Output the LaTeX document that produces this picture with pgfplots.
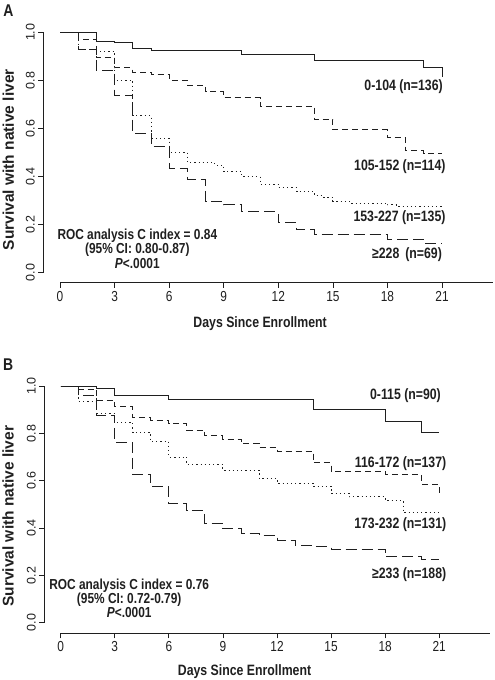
\documentclass[border=0pt]{standalone}
\usepackage{fontspec}
\setmainfont{Liberation Sans}[FakeStretch=0.82]
\newfontfamily\rotfont{Liberation Sans}
\usepackage{pgfplots}
\usepackage{pgfplotstable}
\pgfplotsset{compat=1.18}
\definecolor{ink}{gray}{0.12}

% Panel A
\pgfplotstableread{
x y
0 1
2 0.963
3 0.956
4 0.932
5 0.924
10 0.908
14 0.884
20 0.852
21 0.815
}\tabAa
\pgfplotstableread{
x y
0 1
1 0.972
2 0.896
3 0.852
4 0.835
5 0.824
6 0.800
7 0.780
8 0.752
9 0.728
11 0.692
14 0.637
15 0.594
18 0.562
19 0.507
20 0.494
21 0.494
}\tabAb
\pgfplotstableread{
x y
0 1
1 0.930
2 0.922
3 0.800
4 0.653
5 0.560
6 0.500
7 0.458
8.5 0.448
9 0.420
10 0.400
11 0.368
12 0.355
13 0.337
14 0.320
14.5 0.313
15 0.298
16 0.290
18 0.282
18.5 0.276
21 0.276
}\tabAc
\pgfplotstableread{
x y
0 1
1 0.930
2 0.843
3 0.739
4 0.580
5 0.524
6 0.434
7 0.388
8 0.298
9 0.283
10 0.253
12 0.207
13 0.178
14 0.158
18 0.140
20 0.123
21 0.123
}\tabAd

% Panel B
\pgfplotstableread{
x y
0 1
2 0.990
3 0.960
6 0.944
14 0.899
18 0.851
20 0.802
21 0.802
}\tabBa
\pgfplotstableread{
x y
0 1
1 0.987
2 0.941
3 0.913
4 0.868
5 0.856
6 0.842
7 0.814
8 0.789
9 0.776
10 0.758
11 0.742
12 0.725
14 0.675
15 0.638
18 0.625
20 0.583
21 0.545
}\tabBb
\pgfplotstableread{
x y
0 1
1 0.935
2 0.886
3 0.847
4 0.803
5 0.765
6 0.700
7 0.668
9 0.645
11 0.610
12 0.589
14 0.577
15 0.547
16 0.532
18 0.517
19 0.465
21 0.465
}\tabBc
\pgfplotstableread{
x y
0 1
1 0.960
2 0.875
3 0.762
4 0.625
5 0.575
6 0.504
7 0.473
8 0.421
9 0.398
10 0.379
11 0.370
12 0.349
13 0.327
14 0.321
15 0.311
18 0.279
20 0.266
21 0.266
}\tabBd

\tikzset{
  lab/.style={font=\bfseries\fontsize{15bp}{17bp}\selectfont, text=ink, inner sep=0pt},
}
\pgfplotsset{
  kmaxis/.style={
    scale only axis, xmin=0, xmax=23.8, ymin=0, ymax=1,
    axis x line=bottom, axis y line=left,
    axis line style={-, line width=0.8bp, draw=ink},
    xtick={0,3,6,9,12,15,18,21}, ytick={0,0.2,0.4,0.6,0.8,1},
    tick align=outside, major tick length=5bp,
    tick style={draw=ink, line width=0.8bp},
    /pgf/number format/assume math mode=true,
    xticklabel style={font=\fontsize{14.5bp}{16bp}\selectfont, text=ink},
    yticklabel style={font=\rotfont\fontsize{12.5bp}{14bp}\selectfont, rotate=90, anchor=south, text=ink},
    yticklabel={\pgfmathprintnumber[fixed,fixed zerofill,precision=1]{\tick}},
    xlabel style={font=\bfseries\fontsize{15bp}{17bp}\selectfont, text=ink, anchor=center},
    ylabel style={font=\rotfont\bfseries\fontsize{15.5bp}{17bp}\selectfont, text=ink, anchor=center},
    clip=false,
  },
  sA/.style={draw=ink, line width=0.9bp, const plot, no marks},
  sB/.style={draw=ink, line width=0.9bp, const plot, no marks, dash pattern=on 6bp off 4bp},
  sC/.style={draw=ink, line width=0.9bp, const plot, no marks, dash pattern=on 1.2bp off 3bp},
  sD/.style={draw=ink, line width=0.9bp, const plot, no marks, dash pattern=on 11bp off 5bp},
}

\begin{document}
\begin{tikzpicture}
\begin{axis}[kmaxis, width=433bp, height=240.4bp, at={(0,0)}, anchor=south west,
  axis x line shift=10bp, axis y line shift=16.7bp,
  xlabel={Days Since Enrollment}, ylabel={Survival with native liver},
  xlabel style={at={(axis cs:11,-0.21)}},
  ylabel style={at={(axis cs:-2.84,0.47)}}]
\addplot[sA] table {\tabAa};
\addplot[sB] table {\tabAb};
\addplot[sC] table {\tabAc};
\addplot[sD] table {\tabAd};
\node[lab, anchor=east] at (axis cs:21.05,0.772) {0-104 (n=136)};
\node[lab, anchor=east] at (axis cs:21.2,0.441) {105-152 (n=114)};
\node[lab, anchor=east] at (axis cs:21.2,0.230) {153-227 (n=135)};
\node[lab, anchor=east] at (axis cs:21.0,0.074) {≥228\,\ (n=69)};
\node[lab, align=center, font=\bfseries\fontsize{14.5bp}{14.7bp}\selectfont] at (axis cs:4.25,0.10)
  {ROC analysis C index = 0.84\\(95\% CI: 0.80-0.87)\\\textit{P}<.0001};
\node[lab, font=\bfseries\fontsize{17bp}{19bp}\selectfont] at (axis cs:-2.83,1.089) {A};
\end{axis}
\begin{axis}[kmaxis, width=429bp, height=236.7bp, at={(0.7bp,-350bp)}, anchor=south west,
  axis x line shift=10.6bp, axis y line shift=16.4bp,
  xlabel={Days Since Enrollment}, ylabel={Survival with native liver},
  xlabel style={at={(axis cs:10.2,-0.207)}},
  ylabel style={at={(axis cs:-2.92,0.45)}}]
\addplot[sA] table {\tabBa};
\addplot[sB] table {\tabBb};
\addplot[sC] table {\tabBc};
\addplot[sD] table {\tabBd};
\node[lab, anchor=east] at (axis cs:21.1,0.958) {0-115 (n=90)};
\node[lab, anchor=east] at (axis cs:21.4,0.670) {116-172 (n=137)};
\node[lab, anchor=east] at (axis cs:21.4,0.416) {173-232 (n=131)};
\node[lab, anchor=east] at (axis cs:21.4,0.204) {≥233 (n=188)};
\node[lab, align=center, font=\bfseries\fontsize{14.5bp}{14bp}\selectfont] at (axis cs:3.8,0.103)
  {ROC analysis C index = 0.76\\(95\% CI: 0.72-0.79)\\\textit{P}<.0001};
\node[lab, font=\bfseries\fontsize{17bp}{19bp}\selectfont] at (axis cs:-2.92,1.089) {B};
\end{axis}
\pgfresetboundingbox
\path[use as bounding box] (-60bp,-407.3bp) rectangle (435bp,272.7bp);
\end{tikzpicture}
\end{document}
